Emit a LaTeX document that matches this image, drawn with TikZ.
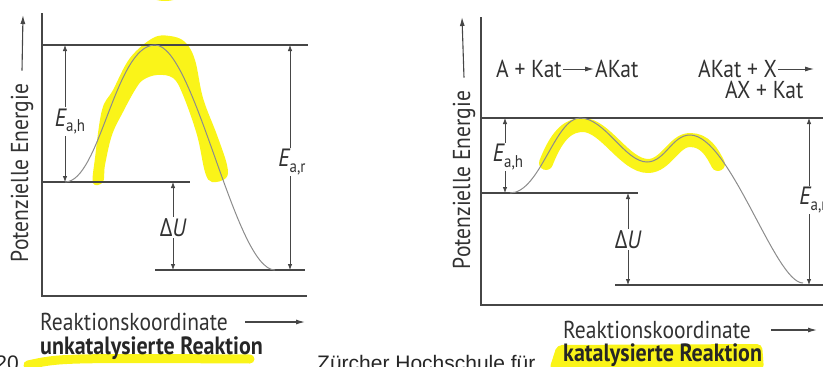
\documentclass[tikz,border=0pt]{standalone}
\usepackage{fontspec}
\setmainfont{PT Sans}[FakeStretch=0.88]
\newfontfamily\grkfont{Open Sans}[FakeStretch=0.88]
\newfontfamily\footfont{Liberation Sans}
\usetikzlibrary{arrows.meta,positioning,calc}
\definecolor{lvlgray}{RGB}{70,70,70}
\definecolor{crvgray}{RGB}{140,140,140}
\definecolor{txtgray}{RGB}{50,50,50}
\definecolor{marker}{RGB}{250,244,25}
\tikzset{
  level/.style={draw=lvlgray, line width=1.3pt},
  axis/.style={draw=lvlgray, line width=1.5pt},
  curve/.style={draw=crvgray, line width=1pt},
  dimarr/.style={{Latex[length=6pt,width=4.5pt]}-{Latex[length=6pt,width=4.5pt]}, lvlgray, line width=0.8pt},
  lblarr/.style={-{Latex[length=9pt,width=5pt]}, lvlgray, line width=1.1pt},
  hilite/.style={draw=marker, line cap=round, line join=round},
  dimlbl/.style={fill=white, inner sep=1.5pt, font=\fontsize{25}{28}\selectfont, text=txtgray},
  axlbl/.style={font=\fontsize{24.5}{27}\selectfont, text=txtgray, inner sep=0pt},
  eqlbl/.style={font=\fontsize{24.5}{27}\selectfont, text=txtgray, inner sep=1pt},
  capt/.style={font=\fontsize{25}{28}\selectfont\bfseries, text=black!85, inner sep=0pt},
  foot/.style={font=\footfont\fontsize{21}{24}\selectfont, text=black!85, inner sep=0pt},
}
\newcommand{\subidx}[1]{\raisebox{-0.22em}{\fontsize{17}{20}\selectfont #1}}
\newcommand{\Eah}{{\itshape E}\subidx{a,h}}
\newcommand{\Ear}{{\itshape E}\subidx{a,r}}
\newcommand{\dU}{{\grkfont Δ}{\itshape U}}

\begin{document}
\begin{tikzpicture}[x=1pt,y=-1pt]
  \path[use as bounding box, clip] (0,0) rectangle (823,367);

  % --- highlighter marks
  \fill[marker] plot[smooth cycle, tension=0.6] coordinates {(93,183) (95,158) (102,110) (113,90) (130,58) (153,38) (170,36) (185,42) (195,60) (203,98) (217,135) (227,165) (226,178) (212,182) (205,172) (197,135) (183,95) (173,78) (157,75) (143,80) (135,90) (123,112) (112,135) (105,165) (103,182)};
  \fill[marker] (165,-5) ellipse (15 and 6);
  \draw[hilite, line width=14pt] (546,163) .. controls (558,132) and (570,125) .. (583,125)
    .. controls (605,125) and (625,166) .. (648,166) .. controls (666,166) and (674,140) .. (690,140)
    .. controls (705,140) and (712,152) .. (718,164);
  \draw[hilite, line width=9pt] (28,365) .. controls (60,358) .. (250,359);
  \fill[marker, rounded corners=5pt] (557,345) -- (762,344) -- (764,370) -- (549,370) -- cycle;

  % --- unkatalysiert
  \draw[axis] (42,13) -- (42,296) -- (307,296);
  \draw[level] (42,45) -- (308,45);
  \draw[level] (42,182) -- (190,182);
  \draw[level] (155,270) -- (305,270);
  \draw[curve] (65,182) .. controls (100,182) and (115,45) .. (155,45)
    .. controls (195,45) and (235,270) .. (275,270);
  \coordinate (uh-t) at (65,45);  \coordinate (uh-b) at (65,182);
  \coordinate (ur-t) at (290,45); \coordinate (ur-b) at (290,270);
  \coordinate (ud-t) at (173,182); \coordinate (ud-b) at (173,270);
  \draw[dimarr] (uh-t) -- node[dimlbl, pos=0.56, xshift=5pt] (uh-lbl) {\Eah} (uh-b);
  \draw[dimarr] (ur-t) -- node[dimlbl, pos=0.52, xshift=2pt] (ur-lbl) {\Ear} (ur-b);
  \draw[dimarr] (ud-t) -- node[dimlbl, pos=0.52] (ud-lbl) {\dU} (ud-b);
  \node[axlbl, rotate=90] (uy) at (22,173) {Potenzielle Energie};
  \coordinate (uy-tip) at (23,15);
  \draw[lblarr] ([yshift=13pt]uy.east) -- (uy-tip);
  \node[axlbl, anchor=west] (ux) at (40,322) {Reaktionskoordinate};
  \coordinate (ux-tip) at (305,322);
  \draw[lblarr] ([xshift=17pt]ux.east) -- (ux-tip);
  \node[capt, anchor=west] (ucap) at (40,348) {unkatalysierte Reaktion};

  % --- katalysiert
  \draw[axis] (481,17) -- (481,305) -- (823,305);
  \draw[level] (481,118) -- (823,118);
  \draw[level] (481,193) -- (638,193);
  \draw[level] (615,285) -- (823,285);
  \draw[curve] (510,193) .. controls (540,193) and (555,118) .. (580,118)
    .. controls (605,118) and (625,162) .. (647,162) .. controls (665,162) and (672,135) .. (690,135)
    .. controls (730,135) and (775,283) .. (803,283);
  \coordinate (kh-t) at (505,118); \coordinate (kh-b) at (505,193);
  \coordinate (kr-t) at (809,118); \coordinate (kr-b) at (809,285);
  \coordinate (kd-t) at (628,193); \coordinate (kd-b) at (628,285);
  \draw[dimarr] (kh-t) -- node[dimlbl, pos=0.52, xshift=3pt] (kh-lbl) {\Eah} (kh-b);
  \draw[dimarr] (kr-t) -- node[dimlbl, pos=0.49, xshift=4pt] (kr-lbl) {\Ear} (kr-b);
  \draw[dimarr] (kd-t) -- node[dimlbl, pos=0.51] (kd-lbl) {\dU} (kd-b);
  \node[axlbl, rotate=90] (ky) at (464,180) {Potenzielle Energie};
  \coordinate (ky-tip) at (462,17);
  \draw[lblarr] ([yshift=13pt]ky.east) -- (ky-tip);
  \node[axlbl, anchor=west] (kx) at (563,330) {Reaktionskoordinate};
  \coordinate (kx-tip) at (817,330);
  \draw[lblarr] ([xshift=20pt]kx.east) -- (kx-tip);
  \node[capt, anchor=west] (kcap) at (563,355) {katalysierte Reaktion};

  % --- Teilschritte
  \node[eqlbl, anchor=west] (s1a) at (495,69) {A + Kat};
  \node[eqlbl, anchor=west] (s1b) at (594,69) {AKat};
  \draw[lblarr, line width=1pt] (s1a) -- (s1b);
  \node[eqlbl, anchor=west] (s2a) at (697,69) {AKat + X};
  \coordinate (s2-tip) at (814,69);
  \draw[lblarr, line width=1pt] (s2a) -- (s2-tip);
  \node[eqlbl, anchor=west] (s2b) at (724,90) {AX + Kat};

  % --- Fusszeile
  \node[foot, anchor=base east] (pg) at (19,370) {20};
  \node[foot, anchor=base west] (zh) at (317,370) {Zürcher Hochschule für};
\end{tikzpicture}
\end{document}
